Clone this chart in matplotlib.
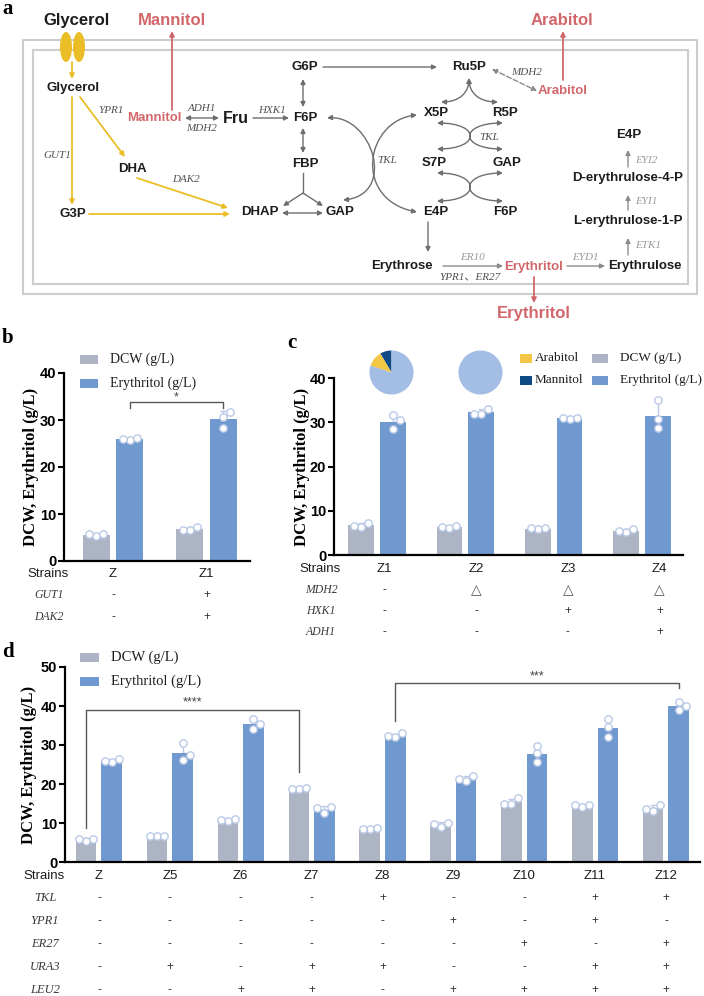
#!/usr/bin/env python3

"""Erythritol pathway scheme with DCW / erythritol titres of the engineered strains."""

import numpy as np
import matplotlib
matplotlib.use("Agg")
import matplotlib.pyplot as plt
from matplotlib.patches import Ellipse, Rectangle, FancyArrowPatch
from matplotlib.path import Path

# ---- data ---------------------------------------------------------------
b_strains = ["Z", "Z1"]
b_dcw = [[5.3, 5.8, 5.8], [6.5, 7.2, 6.5]]
b_ery = [[25.7, 26.2, 25.9], [30.6, 28.4, 31.8]]
b_genes = ["GUT1", "DAK2"]
b_table = [["-", "+"], ["-", "+"]]

c_strains = ["Z1", "Z2", "Z3", "Z4"]
c_dcw = [[6.4, 7.2, 6.5], [6.0, 6.5, 6.3], [5.8, 6.1, 6.0], [5.2, 5.9, 5.4]]
c_ery = [[31.7, 28.4, 30.4], [31.8, 33.1, 31.9], [30.7, 31.0, 30.9], [35.1, 30.8, 28.6]]
c_genes = ["MDH2", "HXK1", "ADH1"]
c_table = [["-", "△", "△", "△"], ["-", "-", "+", "+"], ["-", "-", "-", "+"]]
pie_labels = ["Mannitol", "Arabitol", "Erythritol"]
pie_z1 = [8.5, 11.5, 80.0]
pie_z2 = [0.0, 0.0, 100.0]

d_strains = ["Z", "Z5", "Z6", "Z7", "Z8", "Z9", "Z10", "Z11", "Z12"]
d_dcw = [[5.4, 5.9, 5.9], [6.7, 6.7, 6.7], [10.5, 11.0, 10.8], [18.6, 19.1, 18.7],
         [8.5, 8.6, 8.5], [9.0, 10.1, 9.7], [14.9, 16.3, 14.9], [14.2, 14.6, 14.6],
         [13.2, 14.6, 13.7]]
d_ery = [[25.7, 26.3, 26.0], [26.2, 30.6, 27.4], [34.1, 36.7, 35.4], [12.5, 14.0, 13.8],
         [32.1, 33.0, 32.3], [20.8, 22.1, 21.3], [25.7, 27.9, 29.8], [32.0, 34.5, 36.7],
         [39.0, 40.9, 40.1]]
d_genes = ["TKL", "YPR1", "ER27", "URA3", "LEU2"]
d_table = [
    ["-", "-", "-", "-", "+", "-", "-", "+", "+"],
    ["-", "-", "-", "-", "-", "+", "-", "+", "-"],
    ["-", "-", "-", "-", "-", "-", "+", "-", "+"],
    ["-", "+", "-", "+", "+", "-", "-", "+", "+"],
    ["-", "-", "+", "+", "-", "+", "+", "+", "+"],
]

# ---- style ---------------------------------------------------------------
W, H = 704, 996
SANS = "Liberation Sans"
SERIF = "Liberation Serif"
DARK = "#1c1c1c"
DCW_C = "#adb5c4"
ERY_C = "#7099d0"
PT_EDGE = "#b9c9e6"
RED = "#d2676b"
YEL = "#ebbd26"
GRY = "#6e6e6e"
ENZ = "#505050"
ENZ_LT = "#9a9a9a"
PIE_C = ["#0d4a86", "#f3c646", "#a3bde4"]
OFF, BW = 0.18, 0.29

fig = plt.figure(figsize=(W / 100, H / 100), dpi=100)
ov = fig.add_axes([0, 0, 1, 1], zorder=5)
ov.set_xlim(0, W)
ov.set_ylim(H, 0)
ov.axis("off")
ov.patch.set_visible(False)


def px_axes(x0, y0, x1, y1, **kw):
    return fig.add_axes([x0 / W, 1 - y1 / H, (x1 - x0) / W, (y1 - y0) / H], **kw)


def xpx(ax, xd):
    lo, hi = ax.get_xlim()
    bb = ax.get_position()
    return (bb.x0 + (xd - lo) / (hi - lo) * bb.width) * W


def met(x, y, s, size=9.5, color=DARK):
    ov.text(x, y, s, ha="center", va="center", fontsize=size, fontweight="bold",
            family=SANS, color=color)


def enz(x, y, s, color=ENZ, size=8):
    ov.text(x, y, s, ha="center", va="center", fontsize=size, fontstyle="italic",
            family=[SERIF, "Noto Sans CJK SC"], color=color)


def arrow(p0, p1, color=GRY, style="-|>", ls="-", lw=1.0, ms=7):
    ov.annotate("", xy=p1, xytext=p0,
                arrowprops=dict(arrowstyle=style, color=color, lw=lw, ls=ls,
                                shrinkA=0, shrinkB=0, mutation_scale=ms))


def curve(p0, c1, c2, p1, color=GRY):
    path = Path([p0, c1, c2, p1], [Path.MOVETO, Path.CURVE4, Path.CURVE4, Path.CURVE4])
    ov.add_patch(FancyArrowPatch(path=path, arrowstyle="<|-|>", mutation_scale=7,
                                 color=color, lw=1.0))


def swarm(vals, ppx, ppy, d=7.0):
    placed, offs = [], []
    for v in vals:
        yv = v * ppy
        for k in (0, 1, -1, 2, -2):
            o = k * d
            if all((o - po) ** 2 + (yv - py) ** 2 >= (0.95 * d) ** 2 for po, py in placed):
                break
        placed.append((o, yv))
        offs.append(o / ppx)
    return np.array(offs)


def bar_panel(box, dcw, ery, ymax, xlim):
    x0, y0, x1, y1 = box
    ax = px_axes(*box)
    ax.patch.set_visible(False)
    ax.set_xlim(*xlim)
    ax.set_ylim(0, ymax)
    ppx = (x1 - x0) / (xlim[1] - xlim[0])
    ppy = (y1 - y0) / ymax
    xs = np.arange(len(dcw))
    for reps, pos, col in ((dcw, xs - OFF, DCW_C), (ery, xs + OFF, ERY_C)):
        means = np.array([np.mean(r) for r in reps])
        sds = np.array([np.std(r, ddof=1) for r in reps])
        ax.bar(pos, means, width=BW, color=col, zorder=2)
        ax.errorbar(pos, means, yerr=[np.zeros_like(sds), sds], fmt="none",
                    ecolor=PT_EDGE, elinewidth=1.0, capsize=2.5, capthick=1.0, zorder=1.5)
        for p, r in zip(pos, reps):
            ax.scatter(p + swarm(r, ppx, ppy), r, s=28, facecolor="white",
                       edgecolor=PT_EDGE, linewidth=1.0, zorder=3, clip_on=False)
    ax.set_xticks([])
    ax.set_yticks(np.arange(0, ymax + 1, 10))
    ax.tick_params(axis="y", length=4, width=1.5, labelsize=10.5, pad=1.5)
    for lab in ax.get_yticklabels():
        lab.set_fontweight("bold")
        lab.set_family(SANS)
    for side in ("top", "right"):
        ax.spines[side].set_visible(False)
    for side in ("left", "bottom"):
        ax.spines[side].set_linewidth(1.6)
    ax.set_ylabel("DCW, Erythritol (g/L)", family=SERIF, fontweight="bold", fontsize=12)
    return ax


def bracket(ax, xa, xb, ya, yb, ytop, label, dy):
    ax.plot([xa, xa, xb, xb], [ya, ytop, ytop, yb], color="#585858", lw=1.0,
            clip_on=False, zorder=4)
    ax.text((xa + xb) / 2, ytop + dy, label, ha="center", va="center", fontsize=9,
            color="#444444", family=SANS)


def legend_item(x, y, color, label, w=18, h=9, gap=12, size=10):
    ov.add_patch(Rectangle((x, y - h / 2), w, h, color=color, lw=0))
    ov.text(x + w + gap, y, label, va="center", family=SERIF, fontsize=size, color=DARK)


def table(ax, y_strain, rows, genes, strains, xlab, xs, gsize=8.5):
    ov.text(xlab, y_strain, "Strains", ha="center", va="center", family=SANS,
            fontsize=9.5, color=DARK)
    for i, s in enumerate(strains):
        ov.text(xpx(ax, xs[i]), y_strain, s, ha="center", va="center", family=SANS,
                fontsize=9.5, color=DARK)
    for (yr, gene), signs in zip(genes, rows):
        ov.text(xlab + 1, yr, gene, ha="center", va="center", family=SERIF,
                fontstyle="italic", fontsize=gsize, color="#3a3a3a")
        for i, sg in enumerate(signs):
            ov.text(xpx(ax, xs[i]), yr, sg, ha="center", va="center",
                    family=[SANS, "DejaVu Sans"], fontsize=8.5 if sg != "△" else 10,
                    color="#555555" if sg == "△" else "#333333")


# ---- panel a: pathway ----------------------------------------------------
ov.text(8, 9, "a", ha="center", va="center", family=SERIF, fontweight="bold", fontsize=15)
ov.add_patch(Rectangle((23, 40), 674, 254, fill=False, ec="#cdcdcd", lw=1.5))
ov.add_patch(Rectangle((33, 50), 655, 234, fill=False, ec="#cdcdcd", lw=1.5))

met(77, 20, "Glycerol", size=12)
ov.add_patch(Ellipse((66, 47), 12, 30, color=YEL, lw=0))
ov.add_patch(Ellipse((79, 47), 12, 30, color=YEL, lw=0))
arrow((72, 62), (72, 79), color=YEL, lw=1.3)
met(73, 88, "Glycerol")
arrow((72, 97), (72, 205), color=YEL, lw=1.3)
enz(57, 155, "GUT1")
met(73, 214, "G3P")
arrow((80, 97), (125, 157), color=YEL, lw=1.3)
enz(111, 110, "YPR1")
met(132, 169, "DHA")
arrow((137, 178), (228, 208), color=YEL, lw=1.3)
enz(186, 179, "DAK2")
arrow((89, 214), (230, 214), color=YEL, lw=1.3)

met(172, 20, "Mannitol", size=12, color=RED)
arrow((172, 110), (172, 31), color=RED, lw=1.3)
met(154, 118, "Mannitol", color=RED)
arrow((185, 118), (219, 118), style="<|-|>")
enz(202, 108, "ADH1")
enz(202, 128, "MDH2")
met(236, 118, "Fru", size=11.5)
arrow((253, 118), (289, 118))
enz(272, 110, "HXK1")
met(305, 118, "F6P")
met(305, 67, "G6P")
arrow((303, 79), (303, 107), style="<|-|>")
met(305, 164, "FBP")
arrow((303, 128), (303, 153), style="<|-|>")
ov.plot([303, 303], [173, 193], color=GRY, lw=1.0)
arrow((303, 193), (283, 206))
arrow((303, 193), (323, 206))
met(260, 212, "DHAP")
met(340, 212, "GAP")
arrow((282, 213), (323, 213), style="<|-|>")

arrow((323, 67), (437, 67))
met(469, 67, "Ru5P")
curve((327, 118), (372, 114), (398, 195), (343, 200))
curve((417, 115), (365, 120), (352, 200), (417, 212))
enz(387, 160, "TKL")
curve((469, 78), (469, 92), (460, 102), (441, 102))
curve((469, 78), (469, 92), (478, 102), (498, 102))
met(436, 113, "X5P")
met(505, 113, "R5P")
curve((437, 123), (481, 123), (481, 149), (437, 149))
curve((503, 123), (459, 123), (459, 149), (503, 149))
enz(489, 137, "TKL")
met(434, 163, "S7P")
met(507, 163, "GAP")
curve((437, 173), (481, 173), (481, 201), (437, 201))
curve((503, 173), (459, 173), (459, 201), (503, 201))
met(436, 212, "E4P")
met(505, 212, "F6P")
arrow((428, 222), (428, 252))
met(402, 266, "Erythrose")
arrow((443, 266), (503, 266), color="#8a8a8a")
enz(472, 257, "ER10", color=ENZ_LT)
enz(470, 277, "YPR1、ER27")
met(534, 267, "Erythritol", color=RED)
arrow((534, 277), (534, 303), color=RED, lw=1.3)
met(534, 313, "Erythritol", size=12, color=RED)
arrow((567, 266), (605, 266), color="#8a8a8a")
enz(585, 257, "EYD1", color=ENZ_LT)
met(645, 266, "Erythrulose")
arrow((628, 255), (628, 238), color="#8a8a8a")
enz(648, 245, "ETK1", color=ENZ_LT)
met(628, 221, "L-erythrulose-1-P")
arrow((628, 210), (628, 195), color="#8a8a8a")
enz(646, 201, "EYI1", color=ENZ_LT)
met(628, 178, "D-erythrulose-4-P")
arrow((628, 167), (628, 150), color="#8a8a8a")
enz(646, 160, "EYI2", color=ENZ_LT)
met(629, 135, "E4P")
met(563, 91, "Arabitol", color=RED)
arrow((492, 69), (537, 91), style="<|-|>", ls="--", color="#8a8a8a")
enz(527, 72, "MDH2")
arrow((563, 80), (563, 31), color=RED, lw=1.3)
met(562, 20, "Arabitol", size=12, color=RED)

# ---- panel b ---------------------------------------------------------------
ov.text(8, 338, "b", ha="center", va="center", family=SERIF, fontweight="bold", fontsize=15)
ax_b = bar_panel((64, 373, 250, 561), b_dcw, b_ery, 40, (-0.524, 1.465))
ax_b.yaxis.set_label_coords(-0.132, 0.5)
bracket(ax_b, 0 + OFF, 1 + OFF, 32.6, 32.6, 33.8, "*", 1.1)
legend_item(80, 359, DCW_C, "DCW (g/L)")
legend_item(80, 383, ERY_C, "Erythritol (g/L)")
table(ax_b, 574, b_table, list(zip([595, 617], b_genes)), b_strains, 48, [0, 1])

# ---- panel c ---------------------------------------------------------------
ov.text(292, 343, "c", ha="center", va="center", family=SERIF, fontweight="bold", fontsize=15)
ax_c = bar_panel((334, 378, 683, 555), c_dcw, c_ery, 40, (-0.487, 3.464))
ax_c.yaxis.set_label_coords(-0.069, 0.5)
for box, vals in (((364, 345, 419, 400), pie_z1), ((453, 345, 508, 400), pie_z2)):
    pax = px_axes(*box, zorder=6)
    pax.pie(vals, colors=PIE_C, startangle=90, counterclock=True)
    pax.set_aspect("equal")
legend_item(520, 358, PIE_C[1], "Arabitol", w=12, gap=3, size=9.5)
legend_item(520, 380, PIE_C[0], "Mannitol", w=12, gap=3, size=9.5)
legend_item(592, 358, DCW_C, "DCW (g/L)", w=16, gap=12, size=9.5)
legend_item(592, 380, ERY_C, "Erythritol (g/L)", w=16, gap=12, size=9.5)
c_cols = [0.08 + 1.04 * i for i in range(len(c_strains))]
table(ax_c, 569, c_table, list(zip([590, 611, 632], c_genes)), c_strains, 320, c_cols)

# ---- panel d ---------------------------------------------------------------
ov.text(8, 652, "d", ha="center", va="center", family=SERIF, fontweight="bold", fontsize=15)
ax_d = bar_panel((65, 667, 700, 862), d_dcw, d_ery, 50, (-0.479, 8.48))
ax_d.yaxis.set_label_coords(-0.044, 0.5)
bracket(ax_d, 0 - OFF, 3 - OFF, 8.7, 23.1, 39.0, "****", 1.8)
bracket(ax_d, 4 + OFF, 8 + OFF, 36.2, 44.7, 46.0, "***", 1.5)
legend_item(80, 657, DCW_C, "DCW (g/L)", w=19, size=10.5)
legend_item(80, 681, ERY_C, "Erythritol (g/L)", w=19, size=10.5)
table(ax_d, 876, d_table, list(zip([898, 921, 944, 967, 990], d_genes)), d_strains, 44,
      list(range(len(d_strains))), gsize=9)

fig.savefig("out.png", dpi=100)
